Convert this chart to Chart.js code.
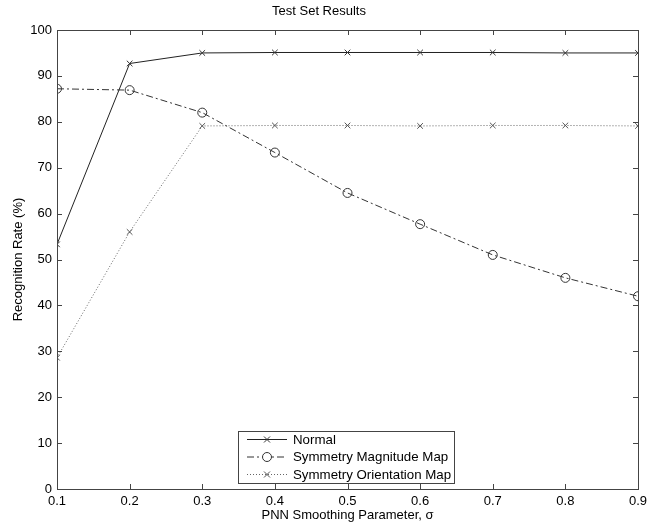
<!DOCTYPE html>
<html>
<head>
<meta charset="utf-8">
<script src="https://cdn.jsdelivr.net/npm/chart.js@4.4.1/dist/chart.umd.min.js"></script>
<style>
  html, body { margin: 0; padding: 0; background: #fff; }
  #wrap { width: 647px; height: 523px; }
</style>
</head>
<body>
<div id="wrap"><canvas id="chart" width="647" height="523"></canvas></div>
<script>
// sigma values on x axis
var sigma = [0.1, 0.2, 0.3, 0.4, 0.5, 0.6, 0.7, 0.8, 0.9];
var normal = [53.3, 92.7, 95.0, 95.1, 95.1, 95.1, 95.1, 95.0, 95.0];
var symMagnitude = [87.2, 86.9, 82.0, 73.3, 64.5, 57.7, 51.0, 46.0, 42.0];
var symOrientation = [28.6, 56.0, 79.1, 79.2, 79.2, 79.1, 79.2, 79.2, 79.1];
var seriesNames = ['Normal', 'Symmetry Magnitude Map', 'Symmetry Orientation Map'];
var yTicks = [0, 10, 20, 30, 40, 50, 60, 70, 80, 90, 100];

var FONT = 'Liberation Sans, Arial, sans-serif';

function pts(ys) {
  return sigma.map(function (x, i) { return { x: x, y: ys[i] }; });
}

// MATLAB style box with inward ticks
var boxPlugin = {
  id: 'box',
  afterDatasetsDraw: function (chart) {
    var ctx = chart.ctx, a = chart.chartArea;
    var xs = chart.scales.x, ys = chart.scales.y;
    var L = 5;
    ctx.save();
    ctx.strokeStyle = '#444';
    ctx.lineWidth = 1;
    ctx.strokeRect(Math.round(a.left) + 0.5, Math.round(a.top) + 0.5,
      Math.round(a.right - a.left), Math.round(a.bottom - a.top));
    ctx.beginPath();
    sigma.forEach(function (v) {
      var px = Math.round(xs.getPixelForValue(v)) + 0.5;
      ctx.moveTo(px, a.bottom); ctx.lineTo(px, a.bottom - L);
      ctx.moveTo(px, a.top); ctx.lineTo(px, a.top + L);
    });
    yTicks.forEach(function (v) {
      var py = Math.round(ys.getPixelForValue(v)) + 0.5;
      ctx.moveTo(a.left, py); ctx.lineTo(a.left + L, py);
      ctx.moveTo(a.right, py); ctx.lineTo(a.right - L, py);
    });
    ctx.stroke();
    ctx.restore();
  },
  afterDraw: function (chart) {
    // legend box inside the axes, bottom centre
    var ctx = chart.ctx;
    var bx = 238, by = 431, bw = 216, bh = 52;
    ctx.save();
    ctx.fillStyle = '#fff';
    ctx.fillRect(bx, by, bw, bh);
    ctx.strokeStyle = '#444';
    ctx.lineWidth = 1;
    ctx.strokeRect(bx + 0.5, by + 0.5, bw, bh);
    chart.data.datasets.forEach(function (ds, i) {
      var cy = by + 8.5 + i * 17.5;
      ctx.strokeStyle = ds.borderColor;
      ctx.setLineDash(ds.borderDash || []);
      ctx.beginPath();
      ctx.moveTo(bx + 9, cy);
      ctx.lineTo(bx + 49, cy);
      ctx.stroke();
      ctx.setLineDash([]);
      var mx = bx + 29, r = ds.pointRadius;
      ctx.beginPath();
      if (ds.pointStyle === 'circle') {
        ctx.fillStyle = '#fff';
        ctx.arc(mx, cy, r, 0, Math.PI * 2);
        ctx.fill();
      } else {
        ctx.moveTo(mx - r * 0.75, cy - r * 0.75); ctx.lineTo(mx + r * 0.75, cy + r * 0.75);
        ctx.moveTo(mx + r * 0.75, cy - r * 0.75); ctx.lineTo(mx - r * 0.75, cy + r * 0.75);
      }
      ctx.strokeStyle = ds.pointBorderColor;
      ctx.stroke();
      ctx.fillStyle = '#000';
      ctx.font = '13.3px ' + FONT;
      ctx.textBaseline = 'middle';
      ctx.fillText(ds.label, bx + 55, cy + 0.5);
    });
    ctx.restore();
  }
};

new Chart(document.getElementById('chart').getContext('2d'), {
  type: 'line',
  data: {
    datasets: [{
      label: seriesNames[0],
      data: pts(normal),
      borderColor: '#222',
      borderWidth: 1,
      pointStyle: 'crossRot',
      pointRadius: 4,
      pointBorderColor: '#333',
      pointBorderWidth: 1,
      fill: false,
      tension: 0
    }, {
      label: seriesNames[1],
      data: pts(symMagnitude),
      borderColor: '#333',
      borderWidth: 1,
      borderDash: [7, 3, 2, 3],
      pointStyle: 'circle',
      pointRadius: 4.5,
      pointBackgroundColor: 'rgba(255,255,255,0)',
      pointBorderColor: '#333',
      pointBorderWidth: 1,
      fill: false,
      tension: 0
    }, {
      label: seriesNames[2],
      data: pts(symOrientation),
      borderColor: '#666',
      borderWidth: 1,
      borderDash: [1, 2],
      pointStyle: 'crossRot',
      pointRadius: 4,
      pointBorderColor: '#555',
      pointBorderWidth: 1,
      fill: false,
      tension: 0
    }]
  },
  options: {
    responsive: false,
    animation: false,
    layout: { padding: { left: 0, right: 9, top: 0, bottom: 0 } },
    plugins: {
      legend: { display: false },
      tooltip: { enabled: false },
      title: {
        display: true,
        text: 'Test Set Results',
        color: '#000',
        font: { family: FONT, size: 13, weight: 'normal' },
        padding: { top: 4, bottom: 10.4 }
      }
    },
    scales: {
      x: {
        type: 'linear',
        min: 0.1,
        max: 0.9,
        afterFit: function (s) { s.height = 34; s.paddingLeft = 0; s.paddingRight = 0; },
        grid: { display: false, drawTicks: false },
        border: { display: false },
        ticks: {
          stepSize: 0.1,
          padding: 5,
          color: '#000',
          font: { family: FONT, size: 13 },
          maxRotation: 0,
          callback: function (v) { return Number(v).toFixed(1); }
        },
        title: {
          display: true,
          text: 'PNN Smoothing Parameter, σ',
          color: '#000',
          font: { family: FONT, size: 13 },
          padding: 0
        }
      },
      y: {
        min: 0,
        max: 100,
        afterFit: function (s) { s.width = 57; s.paddingTop = 0; s.paddingBottom = 0; },
        grid: { display: false, drawTicks: false },
        border: { display: false },
        ticks: {
          stepSize: 10,
          padding: 5,
          color: '#000',
          font: { family: FONT, size: 13 }
        },
        title: {
          display: true,
          text: 'Recognition Rate (%)',
          color: '#000',
          font: { family: FONT, size: 13 },
          padding: { top: 11, bottom: 0 }
        }
      }
    }
  },
  plugins: [boxPlugin]
});
</script>
</body>
</html>
